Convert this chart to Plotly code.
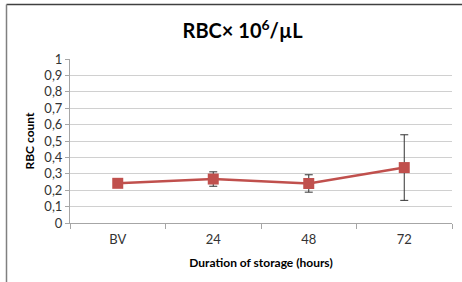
import plotly.graph_objects as go

categories = ["BV", "24", "48", "72"]
rbc_values = [0.242, 0.268, 0.241, 0.338]
rbc_errors = [0.0, 0.044, 0.053, 0.2]
y_ticks = [0, 0.1, 0.2, 0.3, 0.4, 0.5, 0.6, 0.7, 0.8, 0.9, 1]

W, H = 462, 282
L, R, T, B = 70, 10, 59, 59
pw = W - L - R
ph = H - T - B

def px_x(x):
    return (x - L) / pw

def px_y(y):
    return 1 - (y - T) / ph

fig = go.Figure()
fig.add_trace(go.Scatter(
    x=categories, y=rbc_values,
    mode="lines+markers",
    line=dict(color="#C0504D", width=2.5),
    marker=dict(symbol="square", size=11, color="#C0504D"),
    error_y=dict(type="data", array=rbc_errors, visible=True,
                 color="#333333", thickness=1, width=4),
    showlegend=False,
))

font_family = "Lato, 'Open Sans', sans-serif"
fig.update_layout(
    width=W, height=H,
    margin=dict(l=L, r=R, t=T, b=B, autoexpand=False),
    paper_bgcolor="white", plot_bgcolor="white",
    separators=", ",
    font=dict(family=font_family, color="#333333", size=12),
    title=dict(text="<b>RBC× 10<sup>6</sup>/µL</b>", x=0.525, xanchor="center",
               y=1 - 31 / H, yanchor="middle",
               font=dict(size=20, color="#000000", family=font_family)),
    xaxis=dict(
        type="category", range=[-0.5, 3.5], automargin=False,
        tickson="boundaries", ticks="outside", ticklen=5, tickcolor="#A6A6A6",
        ticklabelstandoff=4,
        showline=True, linecolor="#A6A6A6", linewidth=1,
        showgrid=False, zeroline=False,
        tickfont=dict(size=13, color="#333333"),
        title=dict(text="<b>Duration of storage (hours)</b>", standoff=13,
                   font=dict(size=12, color="#000000")),
    ),
    yaxis=dict(
        range=[0, 1], tickvals=y_ticks, automargin=False,
        ticks="outside", ticklen=4, tickcolor="#A6A6A6",
        showline=True, linecolor="#A6A6A6", linewidth=1,
        showgrid=True, gridcolor="#D0D0D0", gridwidth=1,
        zeroline=False,
        tickfont=dict(size=13, color="#333333"),
        title=dict(text="<b>RBC count</b>", standoff=7,
                   font=dict(size=12, color="#000000")),
    ),
    shapes=[
        dict(type="line", xref="paper", yref="paper",
             x0=px_x(6.5), x1=px_x(462), y0=px_y(4.5), y1=px_y(4.5),
             line=dict(color="#404040", width=1.5)),
        dict(type="line", xref="paper", yref="paper",
             x0=px_x(6.5), x1=px_x(6.5), y0=px_y(4.5), y1=px_y(282),
             line=dict(color="#808080", width=1.5)),
    ],
)

fig.write_html("out.html",
               config={"displayModeBar": False},
               post_script="document.body.style.margin='0';document.body.style.overflow='hidden';")
